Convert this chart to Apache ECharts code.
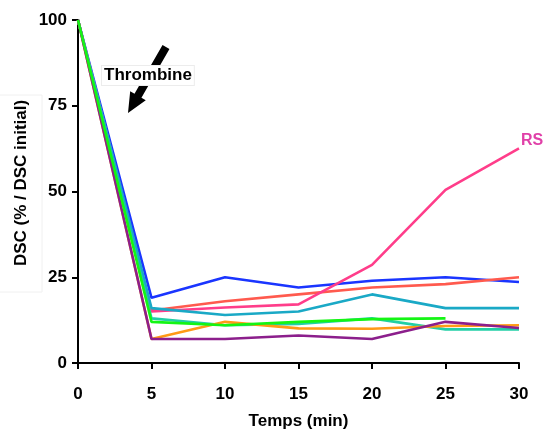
<!DOCTYPE html>
<html><head><meta charset="utf-8">
<script src="https://cdn.jsdelivr.net/npm/echarts@6/dist/echarts.min.js"></script>
<style>html,body{margin:0;padding:0;background:#fff}#c{width:545px;height:430px}</style>
</head><body><div id="c"></div>
<script>
const times = [0, 5, 10, 15, 20, 25, 30];
const yTicks = [0, 25, 50, 75, 100];
const blue = [100, 19, 25, 22, 24, 25, 23.6];
const salmon = [100, 15.3, 18, 20, 22, 23, 25];
const rs = [100, 15, 16.2, 17.1, 28.6, 50.5, 62.6];
const cyan = [100, 16, 14, 15, 20, 16, 16];
const seagreen = [100, 13, 11, 11.4, 13, 9.8, 9.8];
const orange = [100, 7, 12, 10.1, 10, 10.8, 11];
const purple = [100, 7, 7, 8, 7, 12, 10.2];
const green = [100, 12, 11, 12, 12.8, 13];

const seriesDefs = [
  ['blue', blue, '#1a35ff'],
  ['salmon', salmon, '#ff5a4e'],
  ['RS', rs, '#ff3d8a'],
  ['cyan', cyan, '#1aa9c6'],
  ['seagreen', seagreen, '#22cfa6'],
  ['orange', orange, '#ff9a16'],
  ['purple', purple, '#8c1f8c'],
  ['green', green, '#14f514']
];

const chart = echarts.init(document.getElementById('c'));
const font = 'Liberation Sans, Arial, sans-serif';

function arrowPoints(x1, y1, x2, y2, sw, hw, hl) {
  const dx = x2 - x1, dy = y2 - y1, L = Math.hypot(dx, dy);
  const ux = dx / L, uy = dy / L, nx = -uy, ny = ux;
  const bx = x2 - ux * hl, by = y2 - uy * hl;
  return [
    [x1 + nx * sw / 2, y1 + ny * sw / 2],
    [bx + nx * sw / 2, by + ny * sw / 2],
    [bx + nx * hw / 2, by + ny * hw / 2],
    [x2, y2],
    [bx - nx * hw / 2, by - ny * hw / 2],
    [bx - nx * sw / 2, by - ny * sw / 2],
    [x1 - nx * sw / 2, y1 - ny * sw / 2]
  ];
}

chart.setOption({
  animation: false,
  grid: { left: 78, right: 26, top: 20, bottom: 67, containLabel: false, outerBoundsMode: 'none' },
  xAxis: {
    type: 'value', min: 0, max: 30, interval: 5,
    name: 'Temps (min)', nameLocation: 'middle', nameGap: 50,
    nameTextStyle: { fontFamily: font, fontWeight: 'bold', fontSize: 17, color: '#000' },
    axisLine: { lineStyle: { color: '#000', width: 2 } },
    axisTick: { show: true, length: 6, lineStyle: { color: '#000', width: 2 } },
    axisLabel: { fontFamily: font, fontWeight: 'bold', fontSize: 17, color: '#000', margin: 23 },
    splitLine: { show: false }
  },
  yAxis: {
    type: 'value', min: 0, max: 100, interval: 25,
    axisLine: { show: true, lineStyle: { color: '#000', width: 2 } },
    axisTick: { show: true, length: 6, lineStyle: { color: '#000', width: 2 } },
    axisLabel: { fontFamily: font, fontWeight: 'bold', fontSize: 17, color: '#000', margin: 11,
      formatter: v => yTicks.includes(v) ? String(v) : '' },
    splitLine: { show: false }
  },
  series: seriesDefs.map(([name, vals, color]) => ({
    name, type: 'line', showSymbol: false, symbol: 'none',
    data: vals.map((v, i) => [times[i], v]),
    lineStyle: { color, width: 2.6 },
    endLabel: name === 'RS' ? { show: true, formatter: 'RS', color: '#e040a8', fontFamily: font,
      fontWeight: 'bold', fontSize: 16, distance: 2, offset: [0, -8] } : { show: false }
  })),
  graphic: [
    { type: 'rect', shape: { x: -2, y: 95, width: 44, height: 197 },
      style: { fill: 'none', stroke: '#f0f0f0', lineWidth: 1 }, z: 90 },
    { type: 'text', x: 21, y: 183, rotation: Math.PI / 2, z: 101,
      style: { text: 'DSC (% / DSC initial)', fontFamily: font, fontWeight: 'bold', fontSize: 17,
        fill: '#000', align: 'center', verticalAlign: 'middle' } },
    { type: 'polygon', shape: { points: arrowPoints(166, 47, 128, 113, 8, 18, 20) },
      style: { fill: '#000' }, z: 100 },
    { type: 'text', left: 101, top: 65, z: 101,
      style: { text: 'Thrombine', fontFamily: font, fontWeight: 'bold', fontSize: 17, fill: '#000',
        backgroundColor: '#fff', borderColor: '#ececec', borderWidth: 1, padding: [1, 2] } }
  ]
});
</script></body></html>
